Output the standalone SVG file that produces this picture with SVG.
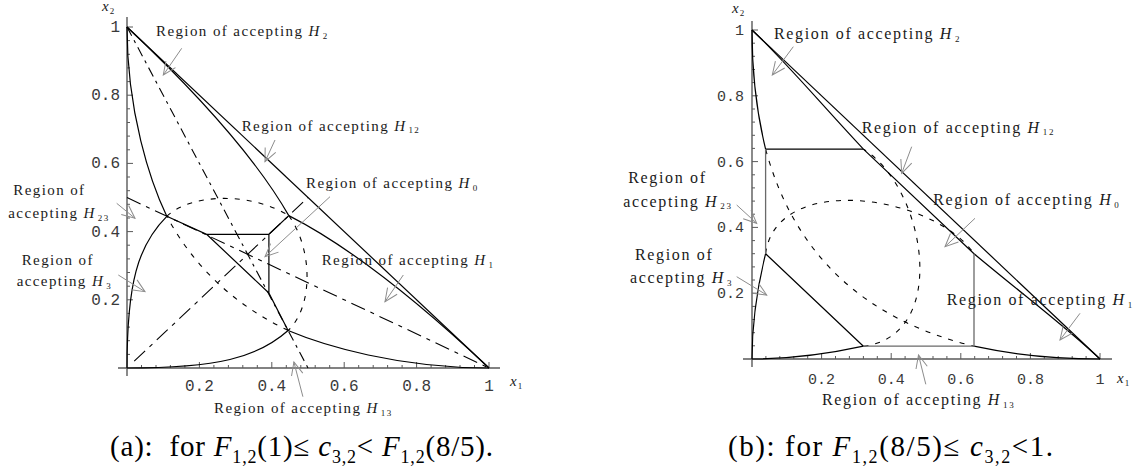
<svg xmlns="http://www.w3.org/2000/svg" width="1139" height="476" viewBox="0 0 1139 476">
<style>
.ax{stroke:#5a5a5a;stroke-width:1.4;fill:none}
.tk{stroke:#5a5a5a;stroke-width:1;fill:none}
.sol{stroke:#000;stroke-width:1.2;fill:none}
.gry{stroke:#6a6a6a;stroke-width:1.3;fill:none}
.dot{stroke:#000;stroke-width:1.1;fill:none;stroke-dasharray:5 7}
.dd{stroke:#000;stroke-width:1.1;fill:none;stroke-dasharray:10 5 3 5}
.ld{stroke:#000;stroke-width:1.1;fill:none;stroke-dasharray:15 6 4 6}
.arr{stroke:#8c8c8c;stroke-width:1;fill:none;marker-end:url(#ah)}
.lab{font-family:"Liberation Serif","Times New Roman",serif;font-size:15px;letter-spacing:1.4px;fill:#1a1a1a}
.labr{font-family:"Liberation Serif","Times New Roman",serif;font-size:16px;letter-spacing:1.65px;fill:#1a1a1a}
.H{font-style:italic}
.sub{font-size:9px;font-style:normal}
.num{font-family:"Liberation Mono","Courier New",monospace;font-size:16px;fill:#3a3a3a}
.numr{font-family:"Liberation Mono","Courier New",monospace;font-size:15px;fill:#3a3a3a}
.axl{font-family:"Liberation Serif","Times New Roman",serif;font-size:15px;font-style:italic;fill:#222}
.cap{font-family:"Liberation Serif","Times New Roman",serif;font-size:29px;letter-spacing:0.8px;fill:#000}
.capb{letter-spacing:1.6px}
.csub{font-size:18px;font-style:normal}
</style>
<defs>
<marker id="ah" markerUnits="userSpaceOnUse" markerWidth="16" markerHeight="14" viewBox="-14 -7 16 14" refX="0" refY="0" orient="auto">
<path d="M-13,-5.8 L0,0 L-13,5.8" fill="none" stroke="#8c8c8c" stroke-width="1"/>
</marker>
</defs>

<g id="plot-a">
<g id="axes-a">
<path class="ax" d="M127,17V376M118,368H500"/>
<path class="tk" d="M141.5,368v-3M156,368v-3M170.4,368v-3M184.9,368v-3M213.9,368v-3M228.4,368v-3M242.8,368v-3M257.3,368v-3M286.3,368v-3M300.8,368v-3M315.2,368v-3M329.7,368v-3M358.7,368v-3M373.2,368v-3M387.6,368v-3M402.1,368v-3M431.1,368v-3M445.6,368v-3M460,368v-3M474.5,368v-3"/>
<path class="tk" d="M199.4,368v-6M271.8,368v-6M344.2,368v-6M416.6,368v-6M489,368v-6"/>
<path class="tk" d="M127,354.4h3M127,340.7h3M127,327.1h3M127,313.4h3M127,286.2h3M127,272.5h3M127,258.9h3M127,245.2h3M127,218h3M127,204.3h3M127,190.7h3M127,177h3M127,149.8h3M127,136.1h3M127,122.5h3M127,108.8h3M127,81.6h3M127,67.9h3M127,54.3h3M127,40.6h3"/>
<path class="tk" d="M127,299.8h6M127,231.6h6M127,163.4h6M127,95.2h6M127,27h6"/>
<text class="num" text-anchor="end" x="120" y="304.8">0.2</text>
<text class="num" text-anchor="end" x="120" y="236.6">0.4</text>
<text class="num" text-anchor="end" x="120" y="168.4">0.6</text>
<text class="num" text-anchor="end" x="120" y="100.2">0.8</text>
<text class="num" text-anchor="end" x="120" y="32">1</text>
<text class="num" text-anchor="middle" x="199.4" y="391">0.2</text>
<text class="num" text-anchor="middle" x="271.8" y="391">0.4</text>
<text class="num" text-anchor="middle" x="344.2" y="391">0.6</text>
<text class="num" text-anchor="middle" x="416.6" y="391">0.8</text>
<text class="num" text-anchor="middle" x="489" y="391">1</text>
<text class="axl" x="102" y="11">x<tspan class="sub" dx="1" dy="3">2</tspan></text>
<text class="axl" x="510" y="386">x<tspan class="sub" dx="1" dy="3">1</tspan></text>
</g>
<g id="dashed-a">
<path class="dd" d="M127,27L308,368"/>
<path class="ld" d="M127,197.5L489,368"/>
<path class="ld" d="M134.2,361.2L308,197.5"/>
<path class="dot" d="M166.8,216.3C192.2,192.4 252.6,192.7 288.8,215.6"/>
<path class="dot" d="M288.8,215.6C313.1,249.7 313.4,306.6 288.1,330.5"/>
<path class="dot" d="M288.1,330.5Q207.5,292.1 166.8,216.3"/>
</g>
<g id="bounds-a">
<path class="sol" d="M127,27L489,368"/>
<path class="sol" d="M127,27C127,112.3 150.5,182.2 166.8,216.3"/>
<path class="sol" d="M489,368C398.5,368 324.3,345.8 288.1,330.5"/>
<path class="sol" d="M166.8,216.3C137.9,245.2 127,282.8 127,368"/>
<path class="sol" d="M288.1,330.5C257.3,357.8 217.5,368 127,368"/>
<path class="sol" d="M127,27C217.5,112.3 262.8,170.2 288.8,215.6"/>
<path class="sol" d="M288.8,215.6C337,240.1 398.5,282.8 489,368"/>
<path class="sol" d="M166.8,216.3L206.6,234.3H268.9L288.8,215.6M268.9,234.3V293L288.1,330.5M206.6,234.3L268.9,293"/>
</g>
</g>

<g id="plot-b">
<g id="axes-b">
<path class="ax" d="M752,21V367M743,359H1112"/>
<path class="tk" d="M765.9,359v-3M779.8,359v-3M793.8,359v-3M807.7,359v-3M835.5,359v-3M849.4,359v-3M863.4,359v-3M877.3,359v-3M905.1,359v-3M919,359v-3M933,359v-3M946.9,359v-3M974.7,359v-3M988.6,359v-3M1002.6,359v-3M1016.5,359v-3M1044.3,359v-3M1058.2,359v-3M1072.2,359v-3M1086.1,359v-3"/>
<path class="tk" d="M821.6,359v-6M891.2,359v-6M960.8,359v-6M1030.4,359v-6M1100,359v-6"/>
<path class="tk" d="M752,345.8h3M752,332.7h3M752,319.5h3M752,306.4h3M752,280h3M752,266.9h3M752,253.7h3M752,240.6h3M752,214.2h3M752,201.1h3M752,187.9h3M752,174.8h3M752,148.4h3M752,135.3h3M752,122.1h3M752,109h3M752,82.6h3M752,69.5h3M752,56.3h3M752,43.2h3"/>
<path class="tk" d="M752,293.2h6M752,227.4h6M752,161.6h6M752,95.8h6M752,30h6"/>
<text class="numr" text-anchor="end" x="744" y="298.2">0.2</text>
<text class="numr" text-anchor="end" x="744" y="232.4">0.4</text>
<text class="numr" text-anchor="end" x="744" y="166.6">0.6</text>
<text class="numr" text-anchor="end" x="744" y="100.8">0.8</text>
<text class="numr" text-anchor="end" x="744" y="35">1</text>
<text class="numr" text-anchor="middle" x="821.6" y="383.5">0.2</text>
<text class="numr" text-anchor="middle" x="891.2" y="383.5">0.4</text>
<text class="numr" text-anchor="middle" x="960.8" y="383.5">0.6</text>
<text class="numr" text-anchor="middle" x="1030.4" y="383.5">0.8</text>
<text class="numr" text-anchor="middle" x="1100" y="383.5">1</text>
<text class="axl" x="732" y="13">x<tspan class="sub" dx="1" dy="3">2</tspan></text>
<text class="axl" x="1117" y="383">x<tspan class="sub" dx="1" dy="3">1</tspan></text>
</g>
<g id="dashed-b">
<path class="dot" d="M765.6,149.1Q808,306 974,346.2"/>
<path class="dot" d="M765.6,253.7C776.4,171.5 933,194.5 974,253.7"/>
<path class="dot" d="M863.4,346.2C950.4,336 926,187.9 863.4,149.1"/>
</g>
<g id="bounds-b">
<path class="sol" d="M752,30L1100,359"/>
<path class="sol" d="M752,30C786.8,62.9 818.1,100.7 863.4,149.1L974,253.7C1025.2,296.5 1065.2,326.1 1100,359"/>
<path class="sol" d="M752,30C752,79.4 759,122.1 765.6,149.1"/>
<path class="sol" d="M1100,359C1047.8,359 1002.6,352.4 974,346.2"/>
<path class="sol" d="M765.6,253.7C760.7,273.5 752,309.7 752,359"/>
<path class="sol" d="M863.4,346.2C842.5,350.8 804.2,359 752,359"/>
<path class="sol" d="M765.6,149.1H863.4M765.6,253.7L863.4,346.2"/>
<path class="gry" d="M765.6,149.1V253.7M863.4,346.2H974V253.7"/>
</g>
</g>

<g id="connectors">
<path class="arr" d="M181.7,48.3L163.3,75"/>
<path class="arr" d="M275,140L265,161.7"/>
<path class="arr" d="M330,196.7L265,256.7"/>
<path class="arr" d="M403.3,275L385,301.7"/>
<path class="arr" d="M116.7,203.3L135,218.3"/>
<path class="arr" d="M118.3,275L145,291.7"/>
<path class="arr" d="M302.9,396.7L293.9,362"/>
<path class="arr" d="M793.3,46.7L772.3,75"/>
<path class="arr" d="M911.7,146.7L901.7,173.3"/>
<path class="arr" d="M975,218.3L945,246.7"/>
<path class="arr" d="M1080,313.3L1060,340"/>
<path class="arr" d="M736.7,205L756.7,223.3"/>
<path class="arr" d="M736.7,276.7L766.7,295"/>
<path class="arr" d="M925.8,384.3L918.5,355"/>
</g>

<g id="labels-a">
<g id="a-H2"><text class="lab" x="156" y="36">Region of accepting <tspan class="H">H</tspan><tspan class="sub" dx="2" dy="2.5">2</tspan></text></g>
<g id="a-H12"><text class="lab" x="241.7" y="130.7">Region of accepting <tspan class="H">H</tspan><tspan class="sub" dx="2" dy="2.5">12</tspan></text></g>
<g id="a-H0"><text class="lab" x="306" y="188.3">Region of accepting <tspan class="H">H</tspan><tspan class="sub" dx="2" dy="2.5">0</tspan></text></g>
<g id="a-H1"><text class="lab" x="321.7" y="265">Region of accepting <tspan class="H">H</tspan><tspan class="sub" dx="2" dy="2.5">1</tspan></text></g>
<g id="a-H23"><text class="lab" x="13.3" y="195">Region of</text><text class="lab" x="8.3" y="218">accepting <tspan class="H">H</tspan><tspan class="sub" dx="2" dy="2.5">23</tspan></text></g>
<g id="a-H3"><text class="lab" x="21.7" y="265">Region of</text><text class="lab" x="16.7" y="286">accepting <tspan class="H">H</tspan><tspan class="sub" dx="2" dy="2.5">3</tspan></text></g>
<g id="a-H13"><text class="lab" x="214" y="413">Region of accepting <tspan class="H">H</tspan><tspan class="sub" dx="2" dy="2.5">13</tspan></text></g>
</g>

<g id="labels-b">
<g id="b-H2"><text class="labr" x="774" y="39.3">Region of accepting <tspan class="H">H</tspan><tspan class="sub" dx="2" dy="2.5">2</tspan></text></g>
<g id="b-H12"><text class="labr" x="861.7" y="132.7">Region of accepting <tspan class="H">H</tspan><tspan class="sub" dx="2" dy="2.5">12</tspan></text></g>
<g id="b-H0"><text class="labr" x="933.3" y="205">Region of accepting <tspan class="H">H</tspan><tspan class="sub" dx="2" dy="2.5">0</tspan></text></g>
<g id="b-H1"><text class="labr" x="946.7" y="305">Region of accepting <tspan class="H">H</tspan><tspan class="sub" dx="2" dy="2.5">1</tspan></text></g>
<g id="b-H23"><text class="labr" x="628.3" y="183.3">Region of</text><text class="labr" x="623.3" y="206.7">accepting <tspan class="H">H</tspan><tspan class="sub" dx="2" dy="2.5">23</tspan></text></g>
<g id="b-H3"><text class="labr" x="635" y="260">Region of</text><text class="labr" x="630" y="283.3">accepting <tspan class="H">H</tspan><tspan class="sub" dx="2" dy="2.5">3</tspan></text></g>
<g id="b-H13"><text class="labr" x="822" y="405">Region of accepting <tspan class="H">H</tspan><tspan class="sub" dx="2" dy="2.5">13</tspan></text></g>
</g>

<g id="captions">
<text class="cap" x="110" y="456" xml:space="preserve">(a):  for <tspan font-style="italic">F</tspan><tspan class="csub" dy="7">1,2</tspan><tspan dy="-7">(1)≤ </tspan><tspan font-style="italic">c</tspan><tspan class="csub" dy="7">3,2</tspan><tspan dy="-7">&lt; </tspan><tspan font-style="italic">F</tspan><tspan class="csub" dy="7">1,2</tspan><tspan dy="-7">(8/5).</tspan></text>
<text class="cap capb" x="728" y="456" xml:space="preserve">(b): for <tspan font-style="italic">F</tspan><tspan class="csub" dy="7">1,2</tspan><tspan dy="-7">(8/5)≤ </tspan><tspan font-style="italic">c</tspan><tspan class="csub" dy="7">3,2</tspan><tspan dy="-7">&lt;1.</tspan></text>
</g>
</svg>
